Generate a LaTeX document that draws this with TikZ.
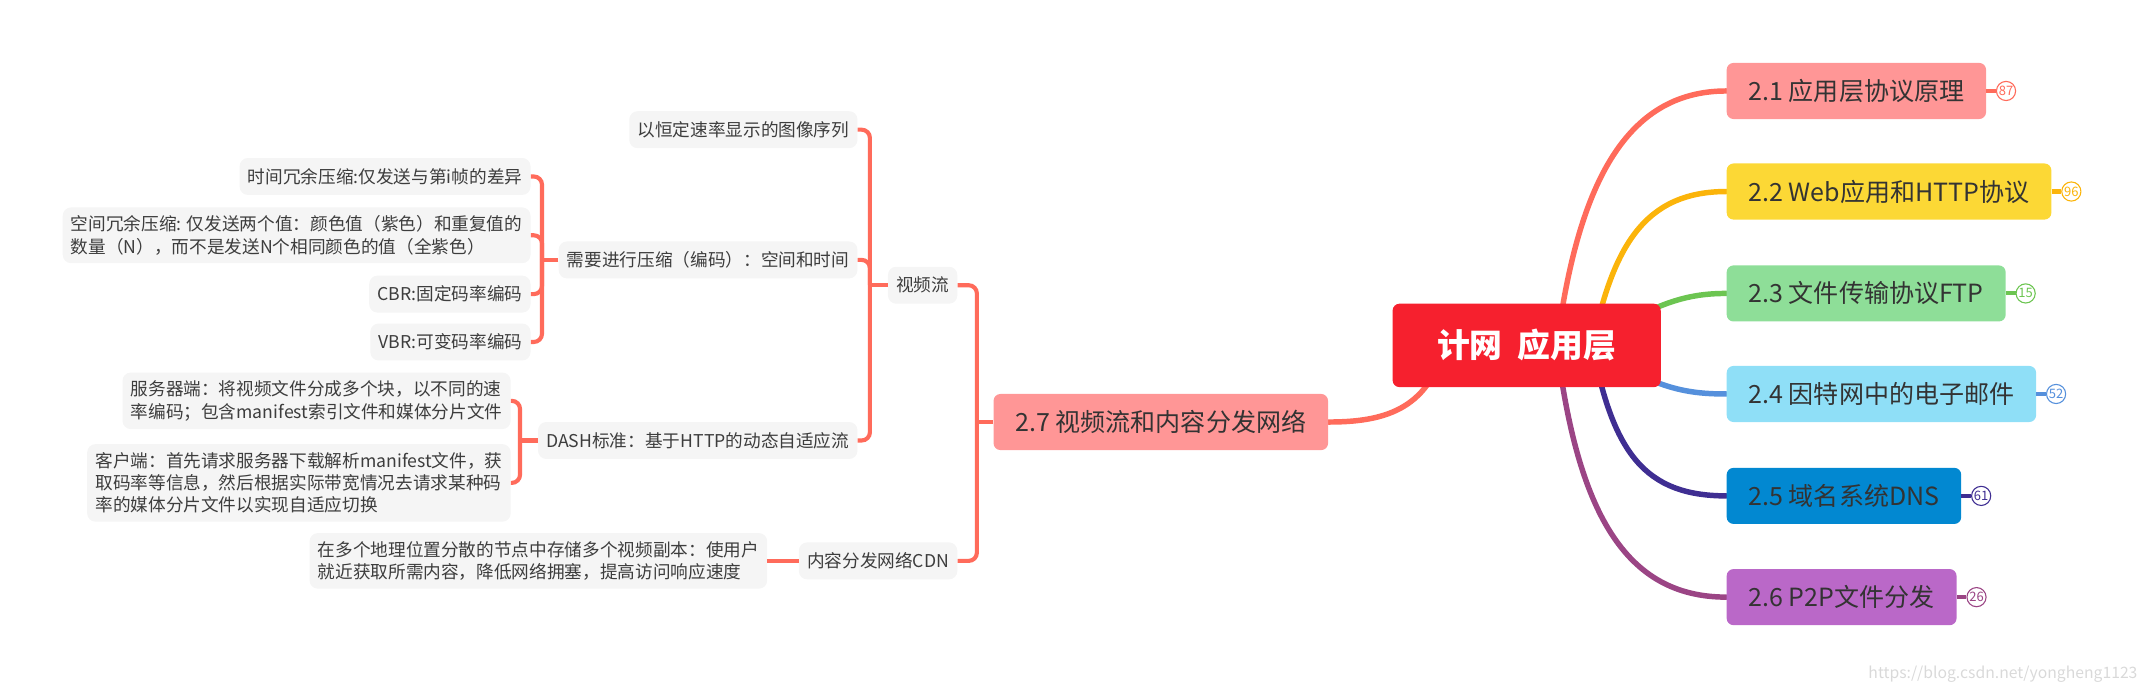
\documentclass[tikz,border=0pt]{standalone}
\usepackage{fontspec}
\setmainfont{Noto Sans CJK SC}
\usetikzlibrary{calc}
\usetikzlibrary{positioning}
\definecolor{rootred}{HTML}{F6202E}
\definecolor{fill21}{HTML}{FF9696}
\definecolor{line21}{HTML}{FF6B5B}
\definecolor{fill22}{HTML}{FCD835}
\definecolor{line22}{HTML}{FBB40A}
\definecolor{fill23}{HTML}{8EDE98}
\definecolor{line23}{HTML}{6CC551}
\definecolor{fill24}{HTML}{8FDFF7}
\definecolor{line24}{HTML}{5590DC}
\definecolor{fill25}{HTML}{0288D1}
\definecolor{line25}{HTML}{3F2E92}
\definecolor{fill26}{HTML}{BA68C8}
\definecolor{line26}{HTML}{9B4585}
\definecolor{subgray}{HTML}{F5F5F5}
\definecolor{txt}{HTML}{333333}
\pgfdeclarelayer{bg}
\pgfsetlayers{bg,main}
\tikzset{root/.style={fill=rootred,text=white,rounded corners=5pt,minimum width=196pt,minimum height=61pt,font=\fontsize{24}{28}\selectfont\bfseries},
  topic/.style={rounded corners=5pt,text=txt,minimum height=41pt,inner xsep=16pt,font=\fontsize{18.3}{22}\selectfont},
  subnode/.style={fill=subgray,rounded corners=6pt,text=txt!95,minimum height=27pt,inner xsep=6pt,inner ysep=6pt,align=left,font=\fontsize{12.9}{16.3}\selectfont},
  badge/.style={circle,draw=#1,text=#1,fill=white,line width=0.8pt,minimum size=14pt,inner sep=0pt,font=\fontsize{9.5}{9.5}\selectfont},
  branch/.style={line width=4pt,line cap=round},
  br/.style={line21,line width=3pt,rounded corners=6pt}}

\begin{document}
\begin{tikzpicture}[x=1pt,y=-1pt]
\useasboundingbox (0,0) rectangle (1568,503);
% --- root and right topics
\node[root] (root) at (1116,252.5) {计网\ \ 应用层};
\node[topic,fill=fill21,anchor=west] (t21) at (1262,66.5) {2.1 应用层协议原理};
\node[topic,fill=fill22,anchor=west] (t22) at (1262,140) {2.2 Web应用和HTTP协议};
\node[topic,fill=fill23,anchor=west] (t23) at (1262,214.5) {2.3 文件传输协议FTP};
\node[topic,fill=fill24,anchor=west] (t24) at (1262,288) {2.4 因特网中的电子邮件};
\node[topic,fill=fill25,anchor=west] (t25) at (1262,362.5) {2.5 域名系统DNS};
\node[topic,fill=fill26,anchor=west] (t26) at (1262,436.5) {2.6 P2P文件分发};
\node[badge=line21,right=7pt of t21] (b21) {87};
\node[badge=line22,right=7pt of t22] (b22) {96};
\node[badge=line23,right=7pt of t23] (b23) {15};
\node[badge=line24,right=7pt of t24] (b24) {52};
\node[badge=line25,right=7pt of t25] (b25) {61};
\node[badge=line26,right=7pt of t26] (b26) {26};
\draw[line21,line width=3pt] (t21.east) -- (b21.west);
\draw[line22,line width=3pt] (t22.east) -- (b22.west);
\draw[line23,line width=3pt] (t23.east) -- (b23.west);
\draw[line24,line width=3pt] (t24.east) -- (b24.west);
\draw[line25,line width=3pt] (t25.east) -- (b25.west);
\draw[line26,line width=3pt] (t26.east) -- (b26.west);
% --- left side: 2.7 and its subtopics
\node[topic,fill=fill21,anchor=east] (t27) at (971,308.5) {2.7 视频流和内容分发网络};
\node[subnode,anchor=east] (vsl) at (700,208.5) {视频流};
\node[subnode,anchor=east] (cdn) at (700,410) {内容分发网络CDN};
\node[subnode,anchor=east] (seq) at (627,94.8) {以恒定速率显示的图像序列};
\node[subnode,anchor=east] (need) at (627,190) {需要进行压缩（编码）：空间和时间};
\node[subnode,anchor=east] (dash) at (627,322) {DASH标准：基于HTTP的动态自适应流};
\node[subnode,anchor=east] (tim) at (388,129) {时间冗余压缩:仅发送与第i帧的差异};
\node[subnode,anchor=east] (spa) at (388,172) {空间冗余压缩: 仅发送两个值：颜色值（紫色）和重复值的\\数量（N），而不是发送N个相同颜色的值（全紫色）};
\node[subnode,anchor=east] (cbr) at (388,215) {CBR:固定码率编码};
\node[subnode,anchor=east] (vbr) at (388,250) {VBR:可变码率编码};
\node[subnode,anchor=east] (srv) at (373.5,293) {服务器端：将视频文件分成多个块，以不同的速\\率编码；包含manifest索引文件和媒体分片文件};
\node[subnode,anchor=east] (cli) at (373.5,353) {客户端：首先请求服务器下载解析manifest文件，获\\取码率等信息，然后根据实际带宽情况去请求某种码\\率的媒体分片文件以实现自适应切换};
\node[subnode,anchor=east] (cdnd) at (561,410) {在多个地理位置分散的节点中存储多个视频副本：使用户\\就近获取所需内容，降低网络拥塞，提高访问响应速度};
\coordinate (j27) at ($(t27.west)+(-12,0)$);
\coordinate (jv) at ($(vsl.west)+(-13,0)$);
\coordinate (jn) at ($(need.west)+(-12,0)$);
\coordinate (jd) at ($(dash.west)+(-13,0)$);
% brackets
\draw[br] (t27.west) -- (j27);
\draw[br] (vsl.east) -| (j27) |- (cdn.east);
\draw[br] (vsl.west) -- (jv);
\draw[br] (seq.east) -| (jv) |- (dash.east);
\draw[br] (need.east) -| (jv);
\draw[br] (need.west) -- (jn);
\draw[br] (tim.east) -| (jn) |- (vbr.east);
\draw[br] (spa.east) -| (jn);
\draw[br] (cbr.east) -| (jn);
\draw[br] (dash.west) -- (jd);
\draw[br] (srv.east) -| (jd) |- (cli.east);
\draw[br] (cdn.west) -- (cdnd.east);
% --- main branches, behind the root
\begin{pgfonlayer}{bg}
\draw[branch,line21] ($(root.center)+(22,0)$) .. controls +(15,-115) and +(-75,0) .. (t21.west);
\draw[branch,line22] ($(root.center)+(48,0)$) .. controls +(15,-72) and +(-60,0) .. (t22.west);
\draw[branch,line23] ($(root.center)+(64,-12)$) .. controls +(35,-20) and +(-27,0) .. (t23.west);
\draw[branch,line24] ($(root.center)+(64,12)$) .. controls +(35,20) and +(-27,0) .. (t24.west);
\draw[branch,line25] ($(root.center)+(48,0)$) .. controls +(15,78) and +(-60,0) .. (t25.west);
\draw[branch,line26] ($(root.center)+(22,0)$) .. controls +(15,120) and +(-75,0) .. (t26.west);
\draw[branch,line21] ($(root.center)+(-60,0)$) .. controls +(-12,48) and +(39,0) .. (t27.east);
\end{pgfonlayer}
\node[text=gray!30,anchor=east,font=\fontsize{11.5}{12}\selectfont] (wm) at (1566,493) {https://blog.csdn.net/yongheng1123};
\end{tikzpicture}
\end{document}
